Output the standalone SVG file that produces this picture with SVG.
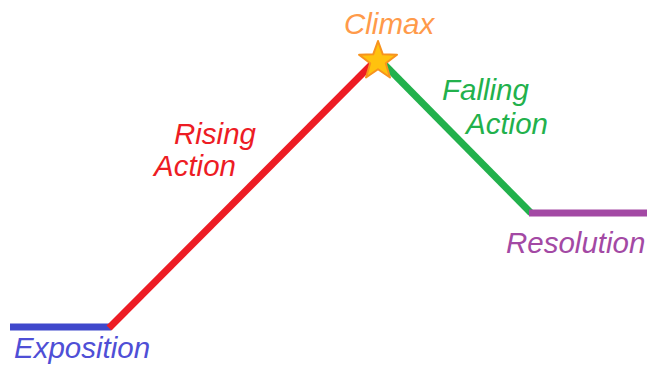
<svg xmlns="http://www.w3.org/2000/svg" width="647" height="369" viewBox="0 0 647 369">
<style>
text{font-family:"Liberation Sans",Arial,sans-serif;font-style:italic;font-size:29.5px}
.seg{fill:none;stroke-width:7;stroke-linecap:butt}
</style>
<rect width="647" height="369" fill="#ffffff"/>
<g id="connectors">
<line class="seg" x1="10" y1="327" x2="111" y2="327" stroke="#3F48CC"/>
<line class="seg" x1="109" y1="328" x2="376" y2="60" stroke="#ED1C24"/>
<line class="seg" x1="380" y1="60" x2="531" y2="213" stroke="#22B14C"/>
<line class="seg" x1="529" y1="213" x2="647" y2="213" stroke="#A349A4"/>
</g>
<g id="climax">
<polygon points="378,41 382.8,54.3 397,54.8 385.8,63.2 390,77.5 378,69.2 366,77.5 370.2,63.2 359,54.8 373.2,54.3" fill="#FFC20E" stroke="#F7931E" stroke-width="2" stroke-linejoin="round"/>
<text x="344" y="34" fill="#FF9A4A">Climax</text>
</g>
<g id="exposition"><text x="14" y="358" fill="#4F4FD6">Exposition</text></g>
<g id="rising"><text x="174" y="144" fill="#ED1C24">Rising</text><text x="154" y="176" fill="#ED1C24">Action</text></g>
<g id="falling"><text x="442" y="100" fill="#22B14C">Falling</text><text x="466" y="134" fill="#22B14C">Action</text></g>
<g id="resolution"><text x="506" y="253" fill="#A349A4">Resolution</text></g>
</svg>
